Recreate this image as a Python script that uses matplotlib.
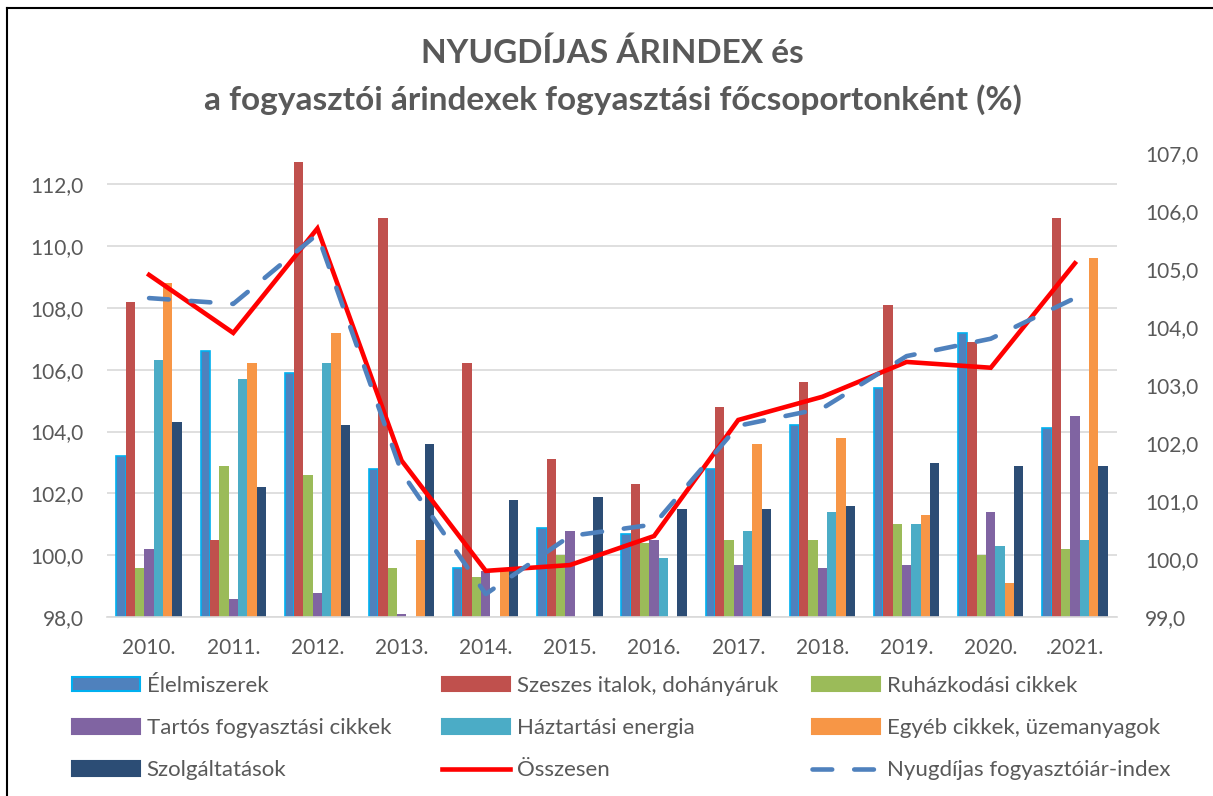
import matplotlib.pyplot as plt
import numpy as np
from matplotlib.lines import Line2D
from matplotlib.patches import Patch

plt.rcParams["font.family"] = ["Lato", "DejaVu Sans"]

years = ["2010.", "2011.", "2012.", "2013.", "2014.", "2015.",
         "2016.", "2017.", "2018.", "2019.", "2020.", ".2021."]

# bar series (left axis)
elelmiszerek = [103.2, 106.6, 105.9, 102.8, 99.6, 100.9, 100.7, 102.8, 104.2, 105.4, 107.2, 104.1]
szeszes = [108.2, 100.5, 112.7, 110.9, 106.2, 103.1, 102.3, 104.8, 105.6, 108.1, 106.9, 110.9]
ruhazkodasi = [99.6, 102.9, 102.6, 99.6, 99.3, 100.0, 100.4, 100.5, 100.5, 101.0, 100.0, 100.2]
tartos = [100.2, 98.6, 98.8, 98.1, 99.5, 100.8, 100.5, 99.7, 99.6, 99.7, 101.4, 104.5]
haztartasi = [106.3, 105.7, 106.2, 93.6, 88.4, 97.6, 99.9, 100.8, 101.4, 101.0, 100.3, 100.5]
egyeb = [108.8, 106.2, 107.2, 100.5, 99.5, 96.9, 97.8, 103.6, 103.8, 101.3, 99.1, 109.6]
szolgaltatasok = [104.3, 102.2, 104.2, 103.6, 101.8, 101.9, 101.5, 101.5, 101.6, 103.0, 102.9, 102.9]

# line series (right axis)
osszesen = [104.9, 103.9, 105.7, 101.7, 99.8, 99.9, 100.4, 102.4, 102.8, 103.4, 103.3, 105.1]
nyugdijas = [104.5, 104.4, 105.6, 101.5, 99.4, 100.4, 100.6, 102.3, 102.6, 103.5, 103.8, 104.5]

bar_series = [
    ("Élelmiszerek", elelmiszerek, "#4F81BD"),
    ("Szeszes italok, dohányáruk", szeszes, "#C0504D"),
    ("Ruházkodási cikkek", ruhazkodasi, "#9BBB59"),
    ("Tartós fogyasztási cikkek", tartos, "#8064A2"),
    ("Háztartási energia", haztartasi, "#4BACC6"),
    ("Egyéb cikkek, üzemanyagok", egyeb, "#F79646"),
    ("Szolgáltatások", szolgaltatasok, "#2C4D75"),
]

GRAY = "#595959"
W, H = 1213, 796
DASH = (0, (4.3, 4.8))

fig = plt.figure(figsize=(W / 100, H / 100), dpi=100)
ax = fig.add_axes([107 / W, 1 - 617.3 / H, 1010 / W, (617.3 - 153) / H])

x = np.arange(len(years))
bw = 0.111
for i, (name, vals, col) in enumerate(bar_series):
    heights = np.array(vals) - 98
    if i == 0:
        ax.bar(x + (i - 3) * bw, heights, bw, bottom=98, color=col,
               edgecolor="#00B0F0", linewidth=1.2, zorder=2)
    else:
        ax.bar(x + (i - 3) * bw, heights, bw, bottom=98, color=col, zorder=2)

ax.set_xlim(-0.5, len(years) - 0.5)
ax.set_ylim(98, 113)
ax.set_yticks(np.arange(98, 113, 2))
ax.set_yticklabels([f"{v:.1f}".replace(".", ",") for v in np.arange(98, 113, 2)])
ax.set_xticks(x)
ax.set_xticklabels(years)
ax.grid(axis="y", color="#D9D9D9", linewidth=1.2, zorder=0)
ax.set_axisbelow(True)
for s in ["top", "left", "right"]:
    ax.spines[s].set_visible(False)
ax.spines["bottom"].set_color("#D9D9D9")
ax.spines["bottom"].set_linewidth(1.2)
ax.tick_params(axis="both", length=0, labelsize=15, colors=GRAY)
ax.tick_params(axis="y", pad=17)
ax.tick_params(axis="x", pad=15)

ax2 = ax.twinx()
ax2.set_ylim(99, 107)
ax2.set_yticks(np.arange(99, 108, 1))
ax2.set_yticklabels([f"{v:.1f}".replace(".", ",") for v in np.arange(99, 108, 1)])
ax2.tick_params(axis="y", length=0, labelsize=15, colors=GRAY, pad=20)
for s in ax2.spines.values():
    s.set_visible(False)
ax2.plot(x, osszesen, color="#FF0000", linewidth=3.3, zorder=3,
         solid_joinstyle="miter")
ax2.plot(x, nyugdijas, color="#4F81BD", linewidth=3.3, zorder=4,
         linestyle=DASH, dash_capstyle="round")

fig.text(0.505, 1 - 53 / H, "NYUGDÍJAS ÁRINDEX és", ha="center", va="center",
         fontsize=24, fontweight="bold", color=GRAY)
fig.text(0.505, 1 - 100 / H, "a fogyasztói árindexek fogyasztási főcsoportonként (%)",
         ha="center", va="center", fontsize=24, fontweight="bold", color=GRAY)

# legend, three columns placed separately
handles = []
for i, (name, vals, col) in enumerate(bar_series):
    ec = "#00B0F0" if i == 0 else col
    handles.append(Patch(facecolor=col, edgecolor=ec, linewidth=1.5, label=name))
handles.append(Line2D([], [], color="#FF0000", linewidth=3.3, label="Összesen"))
handles.append(Line2D([], [], color="#4F81BD", linewidth=3.3, linestyle=DASH,
                      dash_capstyle="round", label="Nyugdíjas fogyasztóiár-index"))
cols = [[0, 3, 6], [1, 4, 7], [2, 5, 8]]
xpos = [72, 442, 812]
for c, xp in zip(cols, xpos):
    fig.legend([handles[k] for k in c], [handles[k].get_label() for k in c],
               loc="upper left", bbox_to_anchor=(xp / W, 1 - 676 / H),
               frameon=False, fontsize=16, handlelength=3.06, handleheight=0.63,
               handletextpad=0.3, labelspacing=1.0, borderpad=0,
               borderaxespad=0, labelcolor=GRAY)

fig.add_artist(Line2D([7 / W, 7 / W], [0, 1 - 8 / H], color="black", linewidth=1.5,
                      transform=fig.transFigure))
fig.add_artist(Line2D([7 / W, 1], [1 - 8 / H, 1 - 8 / H], color="black", linewidth=1.5,
                      transform=fig.transFigure))

fig.savefig("out.png", dpi=100)
